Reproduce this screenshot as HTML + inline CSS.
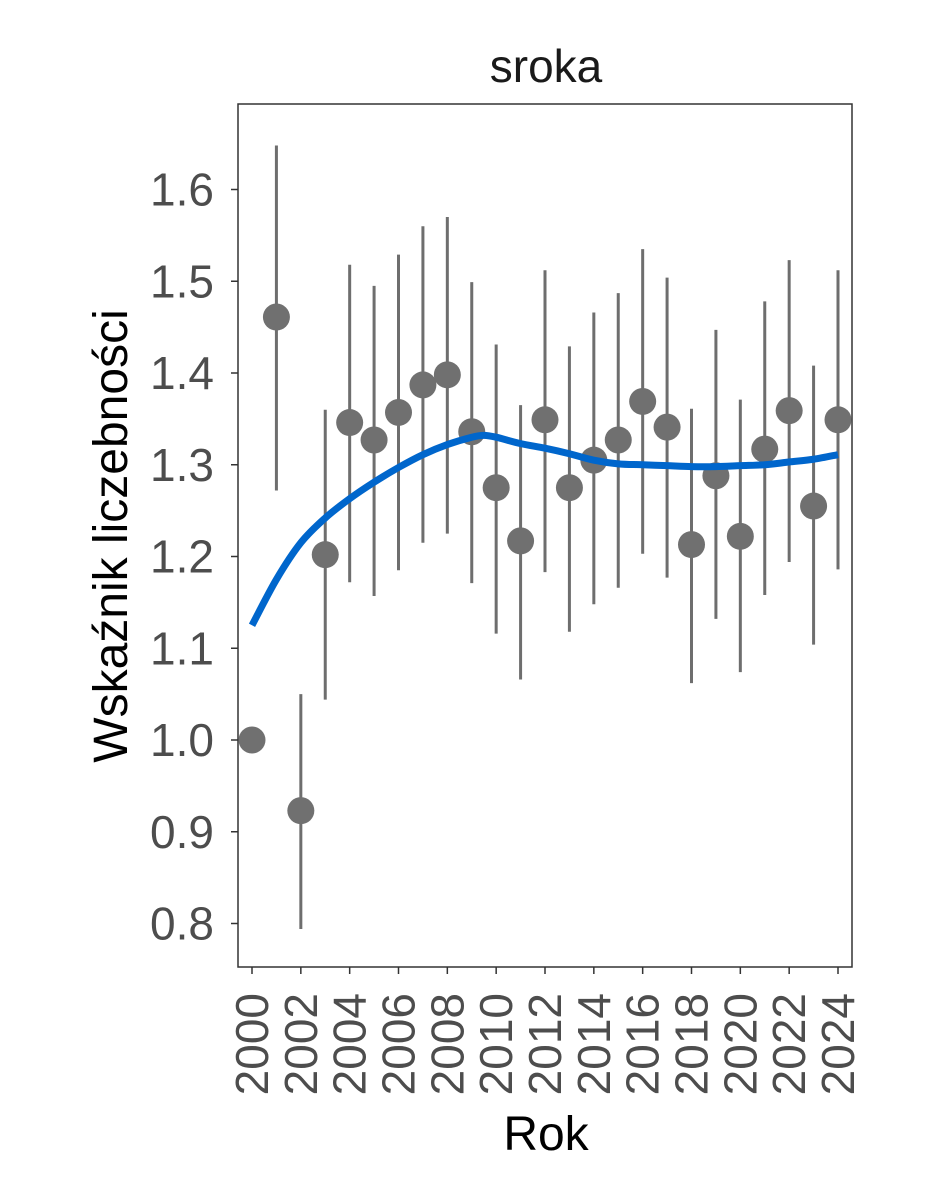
<!DOCTYPE html>
<html><head><meta charset="utf-8"><style>
body{margin:0;background:#fff;}
svg{display:block;font-family:"Liberation Sans",Arial,sans-serif;}
</style></head><body>
<svg id="chart" width="944" height="1181" xmlns="http://www.w3.org/2000/svg"></svg>
<script>
const years=[2000,2001,2002,2003,2004,2005,2006,2007,2008,2009,2010,2011,2012,2013,2014,2015,2016,2017,2018,2019,2020,2021,2022,2023,2024];
const index=[1.00,1.461,0.923,1.202,1.346,1.327,1.357,1.387,1.398,1.336,1.275,1.217,1.349,1.275,1.305,1.327,1.369,1.341,1.213,1.288,1.222,1.317,1.359,1.255,1.349];
const upper=[null,1.648,1.05,1.36,1.518,1.495,1.529,1.56,1.570,1.499,1.431,1.365,1.512,1.429,1.466,1.487,1.535,1.504,1.361,1.447,1.371,1.478,1.523,1.408,1.512];
const lower=[null,1.272,0.794,1.044,1.172,1.157,1.185,1.215,1.225,1.171,1.116,1.066,1.183,1.118,1.148,1.166,1.203,1.177,1.062,1.132,1.074,1.158,1.194,1.104,1.186];
const trendX=[2000,2001,2002,2003,2004,2005,2006,2007,2008,2009,2009.5,2010,2011,2012,2013,2014,2015,2016,2017,2018,2019,2020,2021,2022,2023,2024];
const trendY=[1.125,1.175,1.215,1.242,1.263,1.281,1.297,1.311,1.322,1.330,1.332,1.330,1.323,1.318,1.312,1.305,1.301,1.300,1.299,1.298,1.298,1.299,1.300,1.303,1.306,1.311];
const yTicks=[0.8,0.9,1.0,1.1,1.2,1.3,1.4,1.5,1.6];
const xTicks=[2000,2002,2004,2006,2008,2010,2012,2014,2016,2018,2020,2022,2024];
const L=238,R=852,T=104,B=967;
const sx=v=>252+(v-2000)*(838-252)/24;
const sy=v=>740-(v-1.0)*917.5;
const svg=document.getElementById('chart');
const NS='http://www.w3.org/2000/svg';
function mk(tag,attrs,parent){const e=document.createElementNS(NS,tag);for(const k in attrs)e.setAttribute(k,attrs[k]);(parent||svg).appendChild(e);return e;}
let e;
e=mk('rect',{x:L,y:T,width:R-L,height:B-T,fill:'#fff',stroke:'#333',"stroke-width":1.5});

e=mk('text',{x:546,y:82,"font-size":46,"text-anchor":"middle",fill:'#1a1a1a'});e.textContent='sroka';

yTicks.forEach(t=>{const y=sy(t);
 mk('line',{x1:L-7,x2:L,y1:y,y2:y,stroke:'#333',"stroke-width":1.5});
 e=mk('text',{x:L-24,y:y+16,"font-size":46,"text-anchor":"end",fill:'#4d4d4d'});e.textContent=t.toFixed(1);
 });
xTicks.forEach(t=>{const x=sx(t);
 mk('line',{x1:x,x2:x,y1:B,y2:B+7,stroke:'#333',"stroke-width":1.5});
 e=mk('text',{x:0,y:0,"font-size":46,"text-anchor":"end",fill:'#4d4d4d',transform:`translate(${x+16},${B+26}) rotate(-90)`});e.textContent=t;
 });
years.forEach((yr,i)=>{if(upper[i]==null)return;
 e=mk('line',{x1:sx(yr),x2:sx(yr),y1:sy(upper[i]),y2:sy(lower[i]),stroke:'#6e6e6e',"stroke-width":3});
 });
years.forEach((yr,i)=>{
 e=mk('circle',{cx:sx(yr),cy:sy(index[i]),r:13.5,fill:'#707070'});
 });
// smooth path (Catmull-Rom)
const P=trendX.map((x,i)=>[sx(x),sy(trendY[i])]);
let d='M'+P[0][0]+','+P[0][1];
for(let i=0;i<P.length-1;i++){const p0=P[i-1]||P[i],p1=P[i],p2=P[i+1],p3=P[i+2]||P[i+1];
 const c1=[p1[0]+(p2[0]-p0[0])/6,p1[1]+(p2[1]-p0[1])/6],c2=[p2[0]-(p3[0]-p1[0])/6,p2[1]-(p3[1]-p1[1])/6];
 d+=`C${c1[0]},${c1[1]} ${c2[0]},${c2[1]} ${p2[0]},${p2[1]}`;}
e=mk('path',{d:d,fill:'none',stroke:'#0066cc',"stroke-width":7,"stroke-linejoin":"round"});

e=mk('text',{x:546,y:1150,"font-size":48,"text-anchor":"middle",fill:'#000'});e.textContent='Rok';

e=mk('text',{x:0,y:0,"font-size":48,"text-anchor":"middle",fill:'#000',transform:'translate(127,536) rotate(-90)'});e.textContent='Wskaźnik liczebności';

</script>
</body></html>
